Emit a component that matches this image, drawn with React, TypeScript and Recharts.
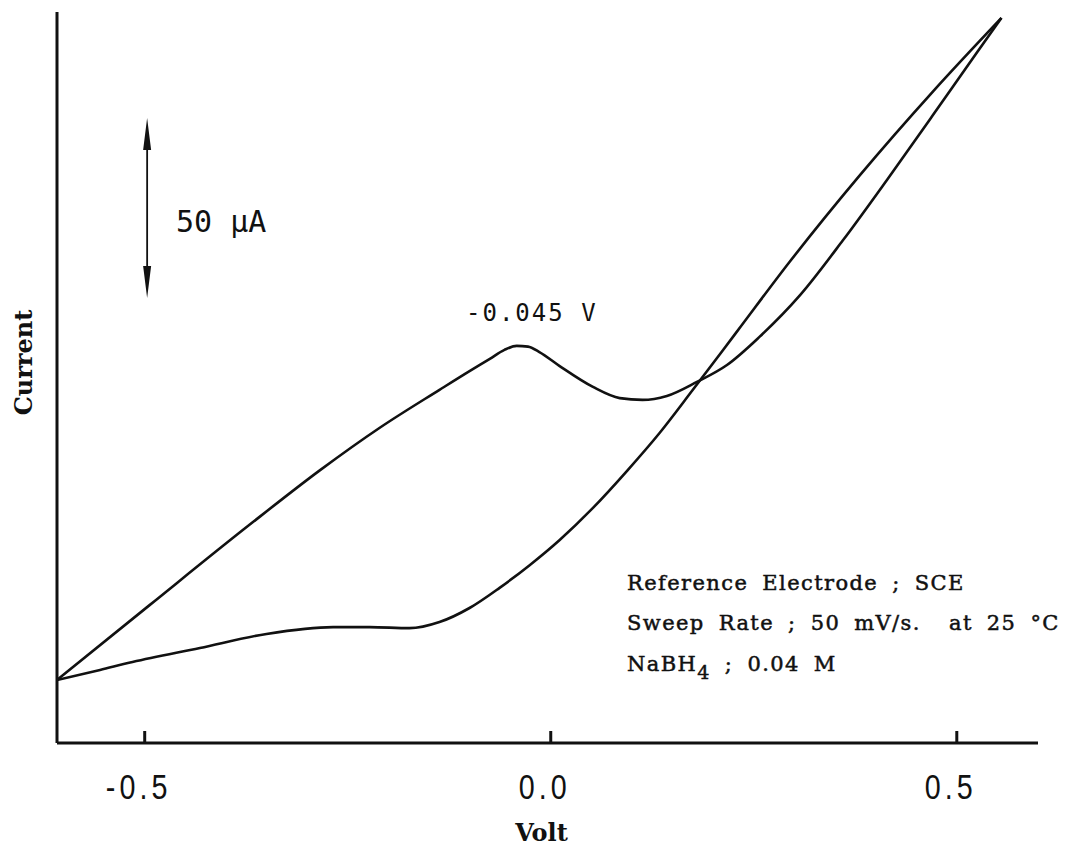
import { LineChart, Line, XAxis, YAxis, ReferenceLine } from 'recharts';

// anodic sweep, -0.6 V -> +0.55 V (potential vs SCE, current in µA above the baseline)
const fwdVolt = [-0.608, -0.555, -0.515, -0.432, -0.35, -0.268, -0.223, -0.174, -0.137, -0.1, -0.063, -0.026, 0.011, 0.052, 0.094, 0.134, 0.175, 0.229, 0.294, 0.381, 0.47, 0.555];
const fwdCurr = [17.5, 20.3, 22.5, 26.4, 30.3, 32.2, 32.2, 31.9, 33.6, 37.5, 43.1, 49.4, 56.4, 65.3, 75.6, 86.1, 98.1, 114.2, 133.6, 157.8, 180.8, 201.4];

// cathodic (return) sweep, listed from low to high potential
const revVolt = [-0.608, -0.494, -0.371, -0.284, -0.211, -0.137, -0.1, -0.075, -0.057, -0.042, -0.028, -0.014, 0.011, 0.052, 0.085, 0.113, 0.143, 0.18, 0.217, 0.257, 0.307, 0.36, 0.414, 0.47, 0.525, 0.555];
const revCurr = [17.5, 38.3, 60.6, 75.8, 87.5, 98.1, 103.3, 106.7, 109.2, 110.3, 110.1, 108.6, 104.7, 98.9, 95.8, 95.3, 96.4, 100.3, 105.0, 112.8, 124.4, 139.7, 156.4, 174.2, 191.9, 201.4];

const voltTicks = [-0.5, 0, 0.5];
const scaleBarVolt = -0.497;
const scaleBarCurr = [123.6, 173.6]; // 50 µA
const notes = ['Reference Electrode ; SCE', 'Sweep Rate ; 50 mV/s.  at 25 °C'];

const fwd = fwdVolt.map((v, k) => ({ v, i: fwdCurr[k] }));
const rev = revVolt.map((v, k) => ({ v, i: revCurr[k] }));

const ink = '#111';
const plotter = '"DejaVu Sans Mono", monospace';
const serif = '"DejaVu Serif", "Liberation Serif", serif';

const VoltTick = (props: any) => {
  const { x, y, payload } = props;
  return (
    <g>
      <line x1={x} y1={y} x2={x} y2={y - 12} stroke={ink} strokeWidth={3} />
      <text transform={`translate(${x - 6},${y + 56}) scale(0.82,1)`} textAnchor="middle" fill={ink}
        fontFamily={'"Liberation Sans", Arial, sans-serif'} fontSize={35} letterSpacing={5}>
        {payload.value.toFixed(1)}
      </text>
    </g>
  );
};

const ScaleArrow = (props: any) => {
  const { x1, y1, y2 } = props;
  const top = Math.min(y1, y2);
  const bot = Math.max(y1, y2);
  return (
    <g>
      <line x1={x1} y1={top + 20} x2={x1} y2={bot - 20} stroke={ink} strokeWidth={1.8} />
      <polygon points={`${x1},${top} ${x1 - 4},${top + 32} ${x1 + 4},${top + 32}`} fill={ink} />
      <polygon points={`${x1},${bot} ${x1 - 4},${bot - 32} ${x1 + 4},${bot - 32}`} fill={ink} />
    </g>
  );
};

export default function App() {
  return (
    <div style={{ position: 'absolute', left: 0, top: 0, width: 1070, height: 847, background: '#fff', overflow: 'hidden' }}>
      <LineChart width={1070} height={847} margin={{ top: 12, right: 32, bottom: 0, left: 0 }}>
        <XAxis type="number" dataKey="v" domain={[-0.608, 0.6]} allowDataOverflow
          ticks={voltTicks} interval={0} tickSize={0} tickMargin={0} tickLine={false}
          tick={(p: any) => <VoltTick {...p} />} height={104}
          axisLine={{ stroke: ink, strokeWidth: 3 }}
          label={(p: any) => {
            const vb = p.viewBox;
            return (
              <text x={vb.x + vb.width / 2 - 6} y={vb.y + 98} textAnchor="middle" fill={ink}
                fontFamily={serif} fontWeight="bold" fontSize={24}>Volt</text>
            );
          }} />
        <YAxis type="number" dataKey="i" domain={[0, 203.05]} allowDataOverflow width={57}
          tick={false} tickLine={false} axisLine={{ stroke: ink, strokeWidth: 3 }}
          label={(p: any) => {
            const vb = p.viewBox;
            const cx = vb.x + 32;
            const cy = vb.y + vb.height / 2 - 15;
            return (
              <text x={cx} y={cy} transform={`rotate(-90 ${cx} ${cy})`} textAnchor="middle" fill={ink}
                fontFamily={serif} fontWeight="bold" fontSize={24}>Current</text>
            );
          }} />
        <ReferenceLine segment={[{ x: scaleBarVolt, y: scaleBarCurr[0] }, { x: scaleBarVolt, y: scaleBarCurr[1] }]}
          shape={(p: any) => <ScaleArrow {...p} />} />
        <Line data={fwd} dataKey="i" type="monotone" stroke={ink} strokeWidth={2.6} dot={false} isAnimationActive={false} />
        <Line data={rev} dataKey="i" type="monotone" stroke={ink} strokeWidth={2.6} dot={false} isAnimationActive={false} />
      </LineChart>
      <svg width={1070} height={847} style={{ position: 'absolute', left: 0, top: 0, pointerEvents: 'none' }}>
        <text x={176} y={232} fill={ink} fontFamily={plotter} fontSize={30}>50 µA</text>
        <text x={466} y={321} fill={ink} fontFamily={plotter} fontSize={24} letterSpacing={2}>-0.045 V</text>
        <g fill={ink} stroke={ink} strokeWidth={0.5} fontFamily={serif} fontSize={21} letterSpacing={1.4} wordSpacing={6}>
          <text x={627} y={590}>{notes[0]}</text>
          <text x={627} y={630} xmlSpace="preserve">{notes[1]}</text>
          <text x={627} y={671}>
            <tspan>NaBH</tspan>
            <tspan dy={8} fontSize={19}>4</tspan>
            <tspan dy={-8}> ; 0.04 M</tspan>
          </text>
        </g>
      </svg>
    </div>
  );
}
